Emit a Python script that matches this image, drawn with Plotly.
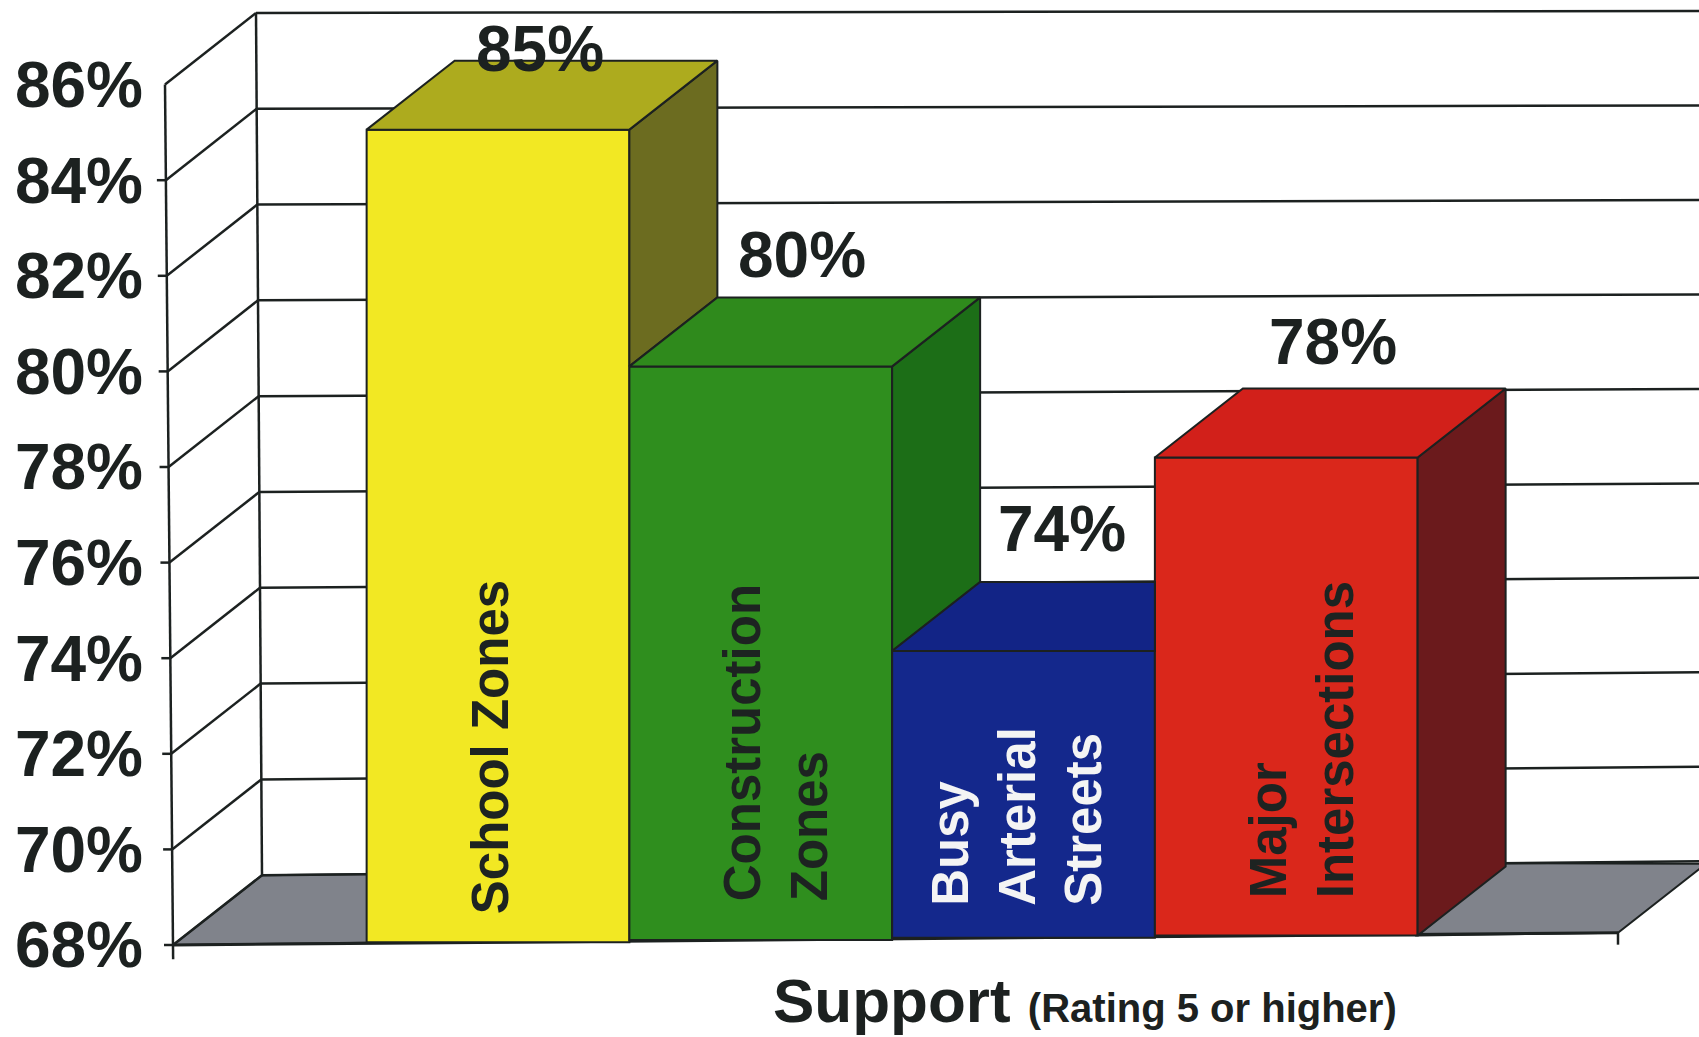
import plotly.graph_objects as go

# ---- data -------------------------------------------------------------
categories = ["School Zones", "Construction<br>Zones", "Busy<br>Arterial<br>Streets", "Major<br>Intersections"]
support = [85, 80, 74, 78]
value_labels = ["85%", "80%", "74%", "78%"]
tick_values = [68, 70, 72, 74, 76, 78, 80, 82, 84, 86]
tick_labels = ["68%", "70%", "72%", "74%", "76%", "78%", "80%", "82%", "84%", "86%"]
axis_note_main = "Support"
axis_note_sub = "(Rating 5 or higher)"

# ---- styles -----------------------------------------------------------
front_colors = ["#F2E823", "#2F8E1E", "#14288C", "#DA271B"]
top_colors = ["#ADAB1E", "#2F8A1C", "#122486", "#D2201A"]
side_colors = ["#6C6C20", "#1C6E17", "#0E1C64", "#6B1A1C"]
label_colors = ["#1d2321", "#1d2321", "#f4f4f4", "#1d2321"]
FLOOR = "#80838B"
INK = "#1c2120"
FONT = "Liberation Sans"

label_xshift = [-8, 15, -6, 15]
label_yshift = [27, 38, 31, 36]
value_xshift = [42, 41, 38, 47]
value_yshift = [81, 111, 122, 116]

W, H = 1699, 1037
LEFT, BOTTOM = 150, 44
PX_PER_PCT = 47.8
UNIT = 262.75
X0_PX = 498.0
Y68_PX = 945.0
xr_ = [(LEFT - X0_PX) / UNIT, (W - X0_PX) / UNIT]
yr_ = [68 - (H - BOTTOM - Y68_PX) / PX_PER_PCT, 68 + Y68_PX / PX_PER_PCT]

DX = 88 / UNIT          # depth of the 3-D box in category units
DY = 69 / PX_PER_PCT    # depth of the 3-D box in percent units
TILT = 0.0085 / PX_PER_PCT * UNIT   # scan tilt, percent per category


def base_of(i):
    return 68 + TILT * (i + (X0_PX - 173) / UNIT)


def xpx(p):
    return (p - X0_PX) / UNIT


def lean_front(v):
    return xpx(173 - 8 * (v - 68) / 18)


def lean_back(v):
    return xpx(262 - 6 * (v - 68) / 18)


def back_level(v):
    return v + 1.46 + 0.04 * (v - 68) / 18


shapes = []


def line(x0, y0, x1, y1, width=2.5):
    shapes.append(dict(type="line", xref="x", yref="y", x0=x0, y0=y0, x1=x1, y1=y1,
                       layer="below", line=dict(color=INK, width=width)))


def poly(pts, fill):
    path = "M " + " L ".join(f"{x:.4f},{y:.4f}" for x, y in pts) + " Z"
    shapes.append(dict(type="path", xref="x", yref="y", path=path, layer="below",
                       fillcolor=fill, line=dict(color=INK, width=2)))


# ---- floor ------------------------------------------------------------
end_i = len(support) - 1
red_right = end_i + 0.5
front_end = xpx(1618)
end_base = 68 + TILT * (front_end - xpx(173))
poly([(lean_front(68), 68), (lean_back(68), back_level(68)),
      (xpx(400), back_level(68) + 0.03), (xpx(400), base_of(0))], FLOOR)
poly([(red_right, base_of(end_i)), (front_end, end_base),
      (front_end + DX, end_base + DY), (red_right + DX, back_level(68) + 0.25)], FLOOR)

# ---- walls and grid ---------------------------------------------------
for v in tick_values:
    lv = back_level(v)
    rise = (14 - 12 * (v - 68) / 18) / PX_PER_PCT
    line(lean_back(v), lv, xr_[1] + 0.05, lv + rise)
    line(lean_front(v), v, lean_back(v), lv)
    if v != tick_values[-1]:
        line(lean_front(v) - 9 / UNIT, v, lean_front(v), v)
line(lean_back(68), back_level(68), lean_back(86), back_level(86))
line(lean_front(67.7), 67.7, lean_front(86), 86)
line(lean_front(68), 68, front_end, end_base, 3)
line(front_end, end_base, front_end, end_base - 0.25)

# ---- bars -------------------------------------------------------------
bases = [base_of(i) for i in range(len(support))]
heights = [v - 68 for v in support]
tops = [b + h for b, h in zip(bases, heights)]

traces = [go.Bar(x=list(range(len(support))), y=heights, base=bases, width=1.0,
                 marker=dict(color=front_colors, line=dict(color=INK, width=2)),
                 hovertext=categories, showlegend=False)]


def face(pts, color):
    traces.append(go.Scatter(x=[p[0] for p in pts] + [pts[0][0]], y=[p[1] for p in pts] + [pts[0][1]],
                             mode="lines", fill="toself", fillcolor=color,
                             line=dict(color=INK, width=2), hoverinfo="skip", showlegend=False))


for i, top in enumerate(tops):
    xl, xr = i - 0.5, i + 0.5
    nxt = tops[i + 1] if i < end_i else None
    # side face, cut off where the next bar hides it
    if nxt is None or nxt < top:
        low = bases[i] if nxt is None else nxt
        face([(xr, low), (xr, top), (xr + DX, top + DY), (xr + DX, low + DY)], side_colors[i])
    # top face, cut off at the front of a taller neighbour
    right = xr + DX if (nxt is None or nxt < top) else xr
    face([(xl, top), (xr, top), (right, top + DY), (xl + DX, top + DY)], top_colors[i])

# ---- text -------------------------------------------------------------
annotations = []
for i, name in enumerate(categories):
    annotations.append(dict(x=i, y=bases[i], xref="x", yref="y",
                            text="<b>" + name.replace("<br>", "</b><br><b>") + "</b>",
                            textangle=-90, align="left",
                            xanchor="center", yanchor="bottom", showarrow=False, borderpad=0,
                            xshift=label_xshift[i], yshift=label_yshift[i],
                            font=dict(family=FONT, size=51, color=label_colors[i])))
    annotations.append(dict(x=i, y=tops[i], xref="x", yref="y", text=f"<b>{value_labels[i]}</b>",
                            xanchor="center", yanchor="middle", showarrow=False,
                            xshift=value_xshift[i], yshift=value_yshift[i],
                            font=dict(family=FONT, size=64, color=INK)))
annotations.append(dict(x=xpx(1085), y=(H - BOTTOM - 1000) / (H - BOTTOM), xref="x", yref="paper",
                        text=f"<b>{axis_note_main}</b> <span style='font-size:40px'><b>{axis_note_sub}</b></span>",
                        xanchor="center", yanchor="middle", showarrow=False,
                        font=dict(family=FONT, size=62, color=INK)))

fig = go.Figure(traces)
fig.update_layout(
    width=W, height=H, autosize=False,
    margin=dict(l=LEFT, r=0, t=0, b=BOTTOM, pad=0),
    paper_bgcolor="white", plot_bgcolor="white",
    barmode="overlay", showlegend=False,
    shapes=shapes, annotations=annotations,
    xaxis=dict(range=xr_, showgrid=False, zeroline=False, showticklabels=False, ticks="", showline=False),
    yaxis=dict(range=yr_, tickmode="array", tickvals=tick_values, ticktext=[f"<b>{t}</b>" for t in tick_labels],
               showgrid=False, zeroline=False, ticks="", showline=False, ticklabelstandoff=6,
               tickfont=dict(family=FONT, size=64, color=INK)),
)
fig.write_html("out.html", config={"displayModeBar": False},
               post_script="document.body.style.margin='0';document.body.style.overflow='hidden';")
